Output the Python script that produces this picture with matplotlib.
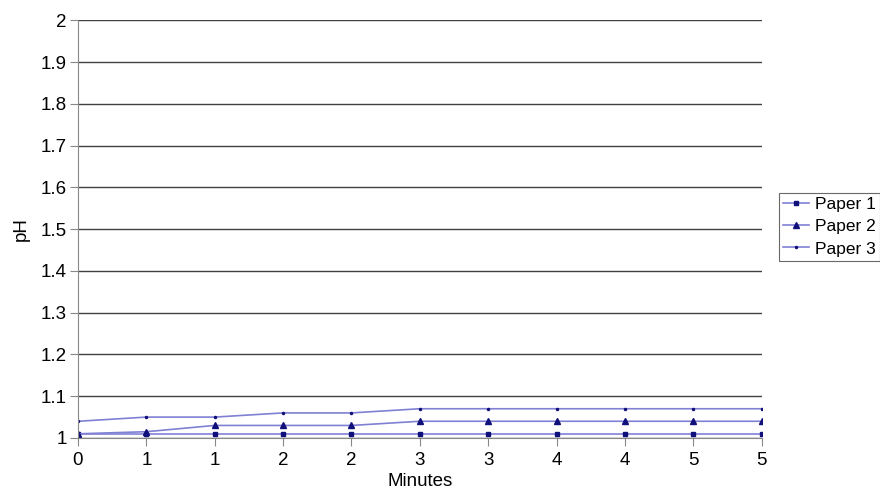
import numpy as np
import matplotlib.pyplot as plt

plt.rcParams['font.family'] = ['Liberation Sans', 'DejaVu Sans']

minutes = ['0', '1', '1', '2', '2', '3', '3', '4', '4', '5', '5']
paper1 = [1.01, 1.01, 1.01, 1.01, 1.01, 1.01, 1.01, 1.01, 1.01, 1.01, 1.01]
paper2 = [1.01, 1.015, 1.03, 1.03, 1.03, 1.04, 1.04, 1.04, 1.04, 1.04, 1.04]
paper3 = [1.04, 1.05, 1.05, 1.06, 1.06, 1.07, 1.07, 1.07, 1.07, 1.07, 1.07]

fig = plt.figure(figsize=(8.8, 4.92), dpi=100)
ax = fig.add_axes([0.0886, 0.1098, 0.777, 0.849])

x = np.arange(len(minutes))
line_c = '#8080d4'
mark_c = '#10107a'
ax.plot(x, paper1, color=line_c, lw=1.2, marker='s', ms=2.5, mfc=mark_c, mec=mark_c, label='Paper 1')
ax.plot(x, paper2, color=line_c, lw=1.2, marker='^', ms=4, mfc=mark_c, mec=mark_c, label='Paper 2')
ax.plot(x, paper3, color=line_c, lw=1.2, marker='o', ms=1.5, mfc=mark_c, mec=mark_c, label='Paper 3')

ax.set_xlim(0, len(minutes) - 1)
ax.set_ylim(1, 2)
ax.set_xticks(x)
ax.set_xticklabels(minutes)
ax.set_yticks(np.round(np.arange(1, 2.01, 0.1), 1))
ax.set_yticklabels(['1', '1.1', '1.2', '1.3', '1.4', '1.5', '1.6', '1.7', '1.8', '1.9', '2'])
ax.yaxis.grid(True, color='#404040', lw=1)
ax.set_axisbelow(True)
for s in ['top', 'right']:
    ax.spines[s].set_visible(False)
for s in ['left', 'bottom']:
    ax.spines[s].set_color('#888888')
ax.tick_params(axis='both', labelsize=13.5, length=6, color='#888888', pad=2)
ax.tick_params(axis='x', pad=4)
ax.set_xlabel('Minutes', fontsize=13.5, labelpad=3)
ax.set_ylabel('pH', fontsize=13.5, labelpad=8)

leg = fig.legend(loc='upper left', bbox_to_anchor=(0.885, 0.608), fontsize=12.5,
                 frameon=True, fancybox=False, edgecolor='#444444', handlelength=1.5,
                 borderpad=0.25, labelspacing=0.4, handletextpad=0.35, borderaxespad=0)
leg.get_frame().set_linewidth(0.8)

fig.savefig('out.png', dpi=100)
